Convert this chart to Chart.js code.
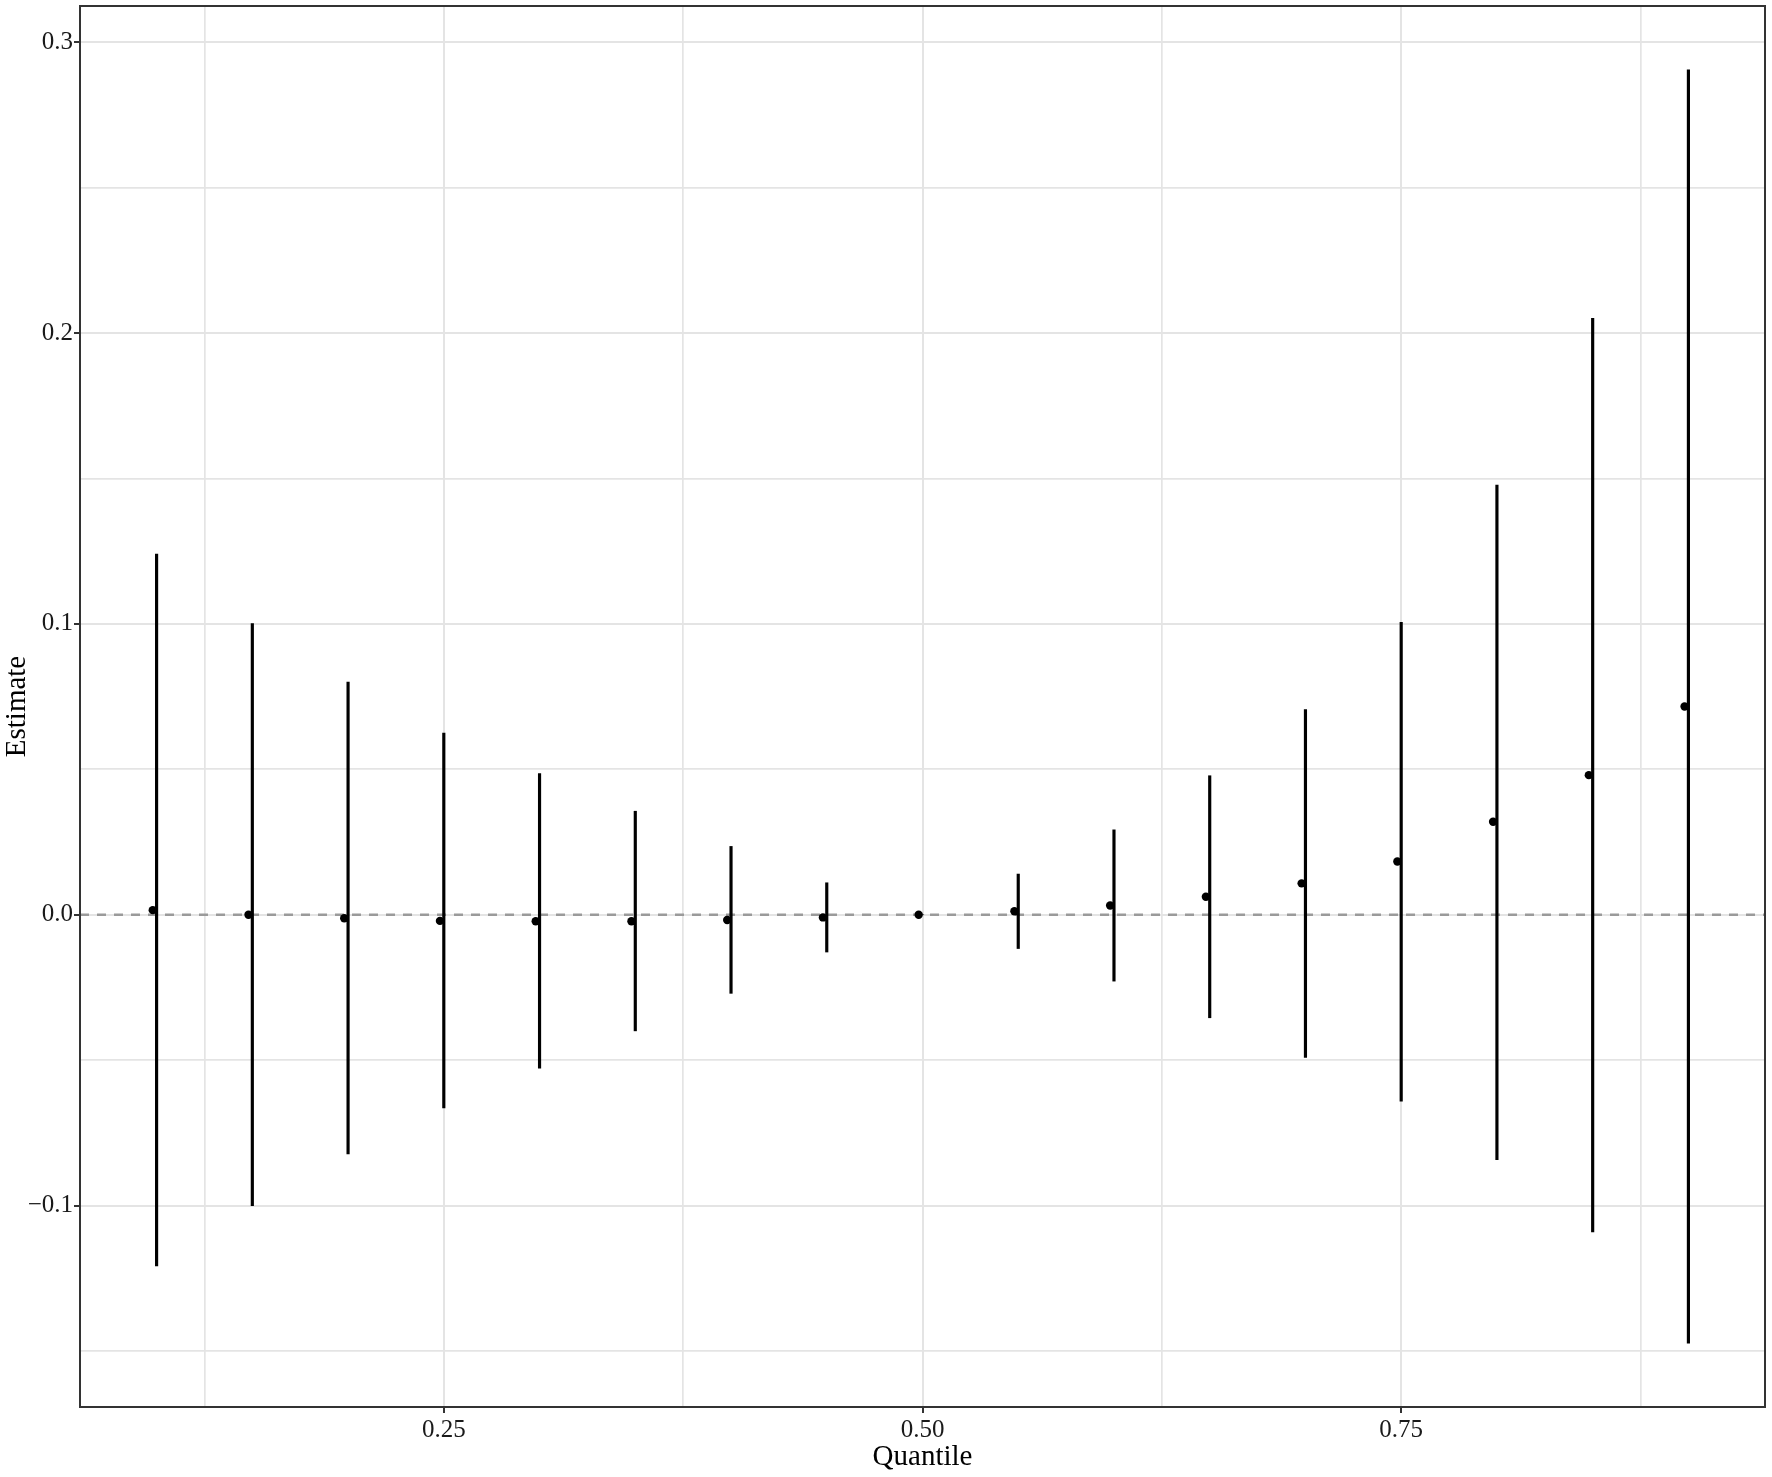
<!DOCTYPE html>
<html>
<head>
<meta charset="utf-8">
<title>Quantile estimates</title>
<script src="https://cdn.jsdelivr.net/npm/chart.js@4.4.0/dist/chart.umd.min.js"></script>
<style>
    html, body { margin: 0; padding: 0; background: #ffffff; }
    canvas { display: block; }
</style>
</head>
<body>
<canvas id="quantileChart" width="1772" height="1477"></canvas>
<script>
// Quantile regression estimates with confidence intervals
const quantiles = [0.10, 0.15, 0.20, 0.25, 0.30, 0.35, 0.40, 0.45, 0.50,
                   0.55, 0.60, 0.65, 0.70, 0.75, 0.80, 0.85, 0.90];
const estimates = [0.0016, 0.0000, -0.0012, -0.0021, -0.0022, -0.0022, -0.0018, -0.0009, 0.0000,
                   0.0012, 0.0032, 0.0062, 0.0108, 0.0183, 0.0320, 0.0480, 0.0716];
const lowerCI = [-0.1207, -0.1000, -0.0822, -0.0664, -0.0527, -0.0399, -0.0270, -0.0128, 0.0000,
                 -0.0116, -0.0228, -0.0354, -0.0490, -0.0641, -0.0842, -0.1090, -0.1473];
const upperCI = [0.1240, 0.1001, 0.0800, 0.0625, 0.0485, 0.0356, 0.0235, 0.0110, 0.0000,
                 0.0140, 0.0292, 0.0478, 0.0705, 0.1005, 0.1477, 0.2050, 0.2905];

// Axis ticks (major ones carry labels, minor ones only a grid line)
const xMajorTicks = [0.25, 0.50, 0.75];
const xTickLabels = ['0.25', '0.50', '0.75'];
const xMinorTicks = [0.125, 0.375, 0.625, 0.875];
const yMajorTicks = [-0.1, 0.0, 0.1, 0.2, 0.3];
const yTickLabels = ['\u22120.1', '0.0', '0.1', '0.2', '0.3'];
const yMinorTicks = [-0.15, -0.05, 0.05, 0.15, 0.25];
const zeroLine = 0;

// Axis limits
const xRange = [0.06, 0.94];
const yRange = [-0.1692, 0.3124];

// points sit a touch left of their interval in the original
const pointNudge = -0.002;

const fontFamily = '"Liberation Serif", "Times New Roman", serif';
const gridColor = '#e4e4e4';
const frameColor = '#333333';

document.addEventListener('DOMContentLoaded', () => {
    initializeChart();
});

function isMajor(list, value) {
    return list.some(v => Math.abs(v - value) < 1e-9);
}

function labelFor(majors, labels, value) {
    const i = majors.findIndex(v => Math.abs(v - value) < 1e-9);
    return i >= 0 ? labels[i] : '';
}

function setTicks(majors, minors) {
    return (scale) => {
        scale.ticks = majors.concat(minors)
            .sort((a, b) => a - b)
            .map(v => ({ value: v }));
    };
}

// Dashed reference line at zero
const zeroLinePlugin = {
    id: 'zeroLine',
    beforeDatasetsDraw(chart) {
        const { ctx, chartArea, scales } = chart;
        const y = scales.y.getPixelForValue(zeroLine);
        ctx.save();
        ctx.strokeStyle = '#9a9a9a';
        ctx.lineWidth = 2.4;
        ctx.setLineDash([9, 8]);
        ctx.beginPath();
        ctx.moveTo(chartArea.left, y);
        ctx.lineTo(chartArea.right, y);
        ctx.stroke();
        ctx.restore();
    }
};

// Panel border on all four sides
const panelBorderPlugin = {
    id: 'panelBorder',
    afterDraw(chart) {
        const { ctx, chartArea } = chart;
        ctx.save();
        ctx.strokeStyle = frameColor;
        ctx.lineWidth = 2;
        ctx.strokeRect(chartArea.left, chartArea.top,
            chartArea.right - chartArea.left, chartArea.bottom - chartArea.top);
        ctx.restore();
    }
};

function initializeChart() {
    const ctx = document.getElementById('quantileChart').getContext('2d');

    const intervals = quantiles.map((q, i) => ({ x: q, y: [lowerCI[i], upperCI[i]] }));
    const points = quantiles.map((q, i) => ({ x: q + pointNudge, y: estimates[i] }));

    new Chart(ctx, {
        type: 'bar',
        data: {
            datasets: [
                {
                    type: 'scatter',
                    label: 'Estimate',
                    data: points,
                    backgroundColor: '#000000',
                    borderWidth: 0,
                    pointRadius: 4.2,
                    showLine: false
                },
                {
                    type: 'bar',
                    label: 'Interval',
                    data: intervals,
                    backgroundColor: '#000000',
                    borderWidth: 0,
                    barThickness: 2.5,
                    grouped: false
                }
            ]
        },
        options: {
            responsive: false,
            animation: false,
            devicePixelRatio: 1,
            layout: {
                padding: { top: 6, right: 7, left: 0, bottom: 0 }
            },
            plugins: {
                legend: { display: false },
                tooltip: { enabled: false }
            },
            scales: {
                x: {
                    type: 'linear',
                    min: xRange[0],
                    max: xRange[1],
                    offset: false,
                    afterBuildTicks: setTicks(xMajorTicks, xMinorTicks),
                    afterFit: (scale) => {
                        scale.height = 70;
                        scale.paddingLeft = 0;
                        scale.paddingRight = 0;
                    },
                    border: { display: false },
                    grid: {
                        offset: false,
                        color: gridColor,
                        lineWidth: (c) => isMajor(xMajorTicks, c.tick.value) ? 2 : 1.7,
                        tickLength: 6,
                        tickColor: (c) => isMajor(xMajorTicks, c.tick.value) ? frameColor : 'rgba(0,0,0,0)',
                        tickWidth: 2
                    },
                    ticks: {
                        autoSkip: false,
                        maxRotation: 0,
                        padding: 2,
                        color: '#1a1a1a',
                        font: { family: fontFamily, size: 25 },
                        callback: (value) => labelFor(xMajorTicks, xTickLabels, value)
                    },
                    title: {
                        display: true,
                        text: 'Quantile',
                        color: '#000000',
                        font: { family: fontFamily, size: 29 },
                        padding: { top: 0, bottom: 2 }
                    }
                },
                y: {
                    type: 'linear',
                    min: yRange[0],
                    max: yRange[1],
                    afterBuildTicks: setTicks(yMajorTicks, yMinorTicks),
                    afterFit: (scale) => {
                        scale.width = 80;
                        scale.paddingTop = 0;
                        scale.paddingBottom = 0;
                    },
                    border: { display: false },
                    grid: {
                        color: gridColor,
                        lineWidth: (c) => isMajor(yMajorTicks, c.tick.value) ? 2 : 1.7,
                        tickLength: 6,
                        tickColor: (c) => isMajor(yMajorTicks, c.tick.value) ? frameColor : 'rgba(0,0,0,0)',
                        tickWidth: 2
                    },
                    ticks: {
                        autoSkip: false,
                        padding: 1,
                        color: '#1a1a1a',
                        font: { family: fontFamily, size: 25 },
                        callback: (value) => labelFor(yMajorTicks, yTickLabels, value)
                    },
                    title: {
                        display: true,
                        text: 'Estimate',
                        color: '#000000',
                        font: { family: fontFamily, size: 29 },
                        padding: { top: 0, bottom: 0 }
                    }
                }
            }
        },
        plugins: [zeroLinePlugin, panelBorderPlugin]
    });
}
</script>
</body>
</html>
